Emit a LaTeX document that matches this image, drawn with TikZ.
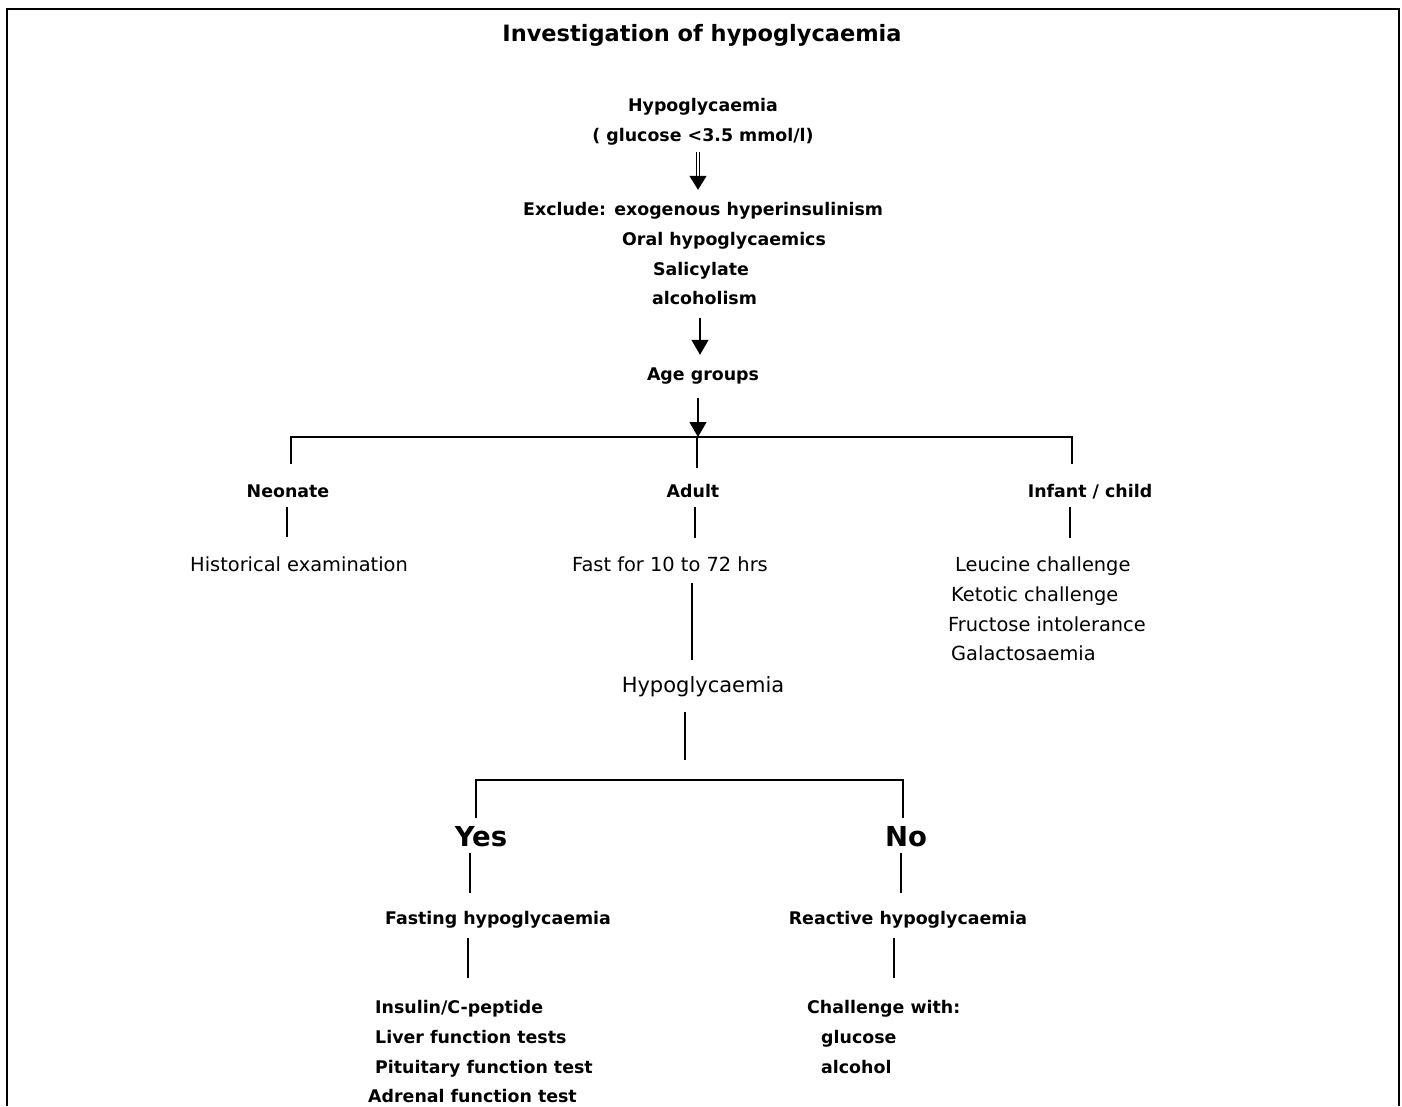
\documentclass[tikz,border=0pt]{standalone}
\usepackage{fontspec}
\setmainfont{DejaVu Sans}
\usepackage{tikz}
\usetikzlibrary{positioning, arrows.meta}
\tikzstyle{heading} = [font=\fontsize{22.5}{27}\selectfont\bfseries, inner sep=0pt, anchor=base]
\tikzstyle{boldtext} = [font=\fontsize{17.4}{21}\selectfont\bfseries, inner sep=0pt, text height=12pt, text depth=3pt, anchor=base]
\tikzstyle{plaintext} = [font=\fontsize{19.4}{23}\selectfont, inner sep=0pt, text height=12pt, text depth=3pt, anchor=base]
\tikzstyle{bigtext} = [font=\fontsize{21}{25}\selectfont, inner sep=0pt, text height=15pt, text depth=4pt, anchor=base]
\tikzstyle{answer} = [font=\fontsize{27.5}{33}\selectfont\bfseries, inner sep=0pt, text height=20pt, text depth=6pt, anchor=base]
\tikzstyle{arrow} = [line width=1.5pt, -{Triangle[width=17pt,length=15pt]}]
\tikzstyle{dblarrow} = [double, double distance=1.8pt, line width=1.2pt, -{Triangle[width=17pt,length=14pt]}]
\tikzstyle{link} = [line width=1.3pt]
\tikzstyle{treebar} = [line width=2pt]

\begin{document}
\begin{tikzpicture}[x=1pt, y=-1pt]
        \useasboundingbox (0,0) rectangle (1402,1106);
        \draw [line width=2.5pt] (7,1106) -- (7,9) -- (1399,9) -- (1399,1106);

        \node (title) [heading] at (702,41) {Investigation of hypoglycaemia};
        \node (hypo) [boldtext] at (703,111) {Hypoglycaemia};
        \node (glucose) [boldtext] at (703,141) {( glucose <3.5 mmol/l)};
        \node (exclude) [boldtext, anchor=base west] at (523,215) {Exclude: exogenous hyperinsulinism};
        \node (oral) [boldtext, anchor=base west] at (622,245) {Oral hypoglycaemics};
        \node (salicylate) [boldtext, anchor=base west] at (653,275) {Salicylate};
        \node (alcoholism) [boldtext, anchor=base west] at (652,304) {alcoholism};
        \node (age) [boldtext] at (703,380) {Age groups};

        % age groups
        \node (neonate) [boldtext] at (288,497) {Neonate};
        \node (adult) [boldtext] at (693,497) {Adult};
        \node (infant) [boldtext] at (1090,497) {Infant / child};
        \node (historical) [plaintext] at (299,571) {Historical examination};
        \node (fast) [plaintext] at (670,571) {Fast for 10 to 72 hrs};
        \node (leucine) [plaintext, anchor=base west] at (955,571) {Leucine challenge};
        \node (ketotic) [plaintext, anchor=base west] at (951,601) {Ketotic challenge};
        \node (fructose) [plaintext, anchor=base west] at (948,631) {Fructose intolerance};
        \node (galacto) [plaintext, anchor=base west] at (951,660) {Galactosaemia};
        \node (hypo2) [bigtext] at (703,692) {Hypoglycaemia};

        % yes / no
        \node (yes) [answer] at (481,846) {Yes};
        \node (no) [answer] at (906,846) {No};
        \node (fasting) [boldtext] at (498,924) {Fasting hypoglycaemia};
        \node (reactive) [boldtext] at (908,924) {Reactive hypoglycaemia};
        \node (insulin) [boldtext, anchor=base west] at (375,1013) {Insulin/C-peptide};
        \node (liver) [boldtext, anchor=base west] at (375,1043) {Liver function tests};
        \node (pituitary) [boldtext, anchor=base west] at (375,1073) {Pituitary function test};
        \node (adrenal) [boldtext, anchor=base west] at (368,1102) {Adrenal function test};
        \node (challenge) [boldtext, anchor=base west] at (807,1013) {Challenge with:};
        \node (glucose2) [boldtext, anchor=base west] at (821,1043) {glucose};
        \node (alcohol) [boldtext, anchor=base west] at (821,1073) {alcohol};

        \coordinate (split) at (698,437);
        \coordinate (split2) at (685,780);

        \draw [dblarrow, shorten <=8pt, shorten >=13pt] ([xshift=-5pt]glucose.south) -- ([xshift=-5pt]glucose.south |- exclude.north);
        \draw [arrow, shorten <=11pt, shorten >=13pt] ([xshift=-3pt]age.north |- alcoholism.south) -- ([xshift=-3pt]age.north);
        \draw [arrow, shorten <=15pt] ([xshift=-5pt]age.south) -- (split);
        \draw [treebar] ([xshift=3pt,yshift=21pt]neonate.north) |- (split) -| ([xshift=-18pt,yshift=21pt]infant.north);
        \draw [link, shorten >=17pt] ([xshift=-1pt]split) -- ([xshift=-1pt]split |- adult.north);

        \draw [link, shorten <=7pt, shorten >=22pt] ([xshift=-1pt]neonate.south) -- ([xshift=-1pt]neonate.south |- historical.north);
        \draw [link, shorten <=7pt, shorten >=21pt] ([xshift=2pt]adult.south) -- ([xshift=2pt]adult.south |- fast.north);
        \draw [link, shorten <=7pt, shorten >=21pt] ([xshift=-20pt]infant.south) -- ([xshift=-20pt]infant.south |- leucine.north);
        \draw [link, shorten <=9pt, shorten >=17pt] ([xshift=22pt]fast.south) -- ([xshift=22pt]fast.south |- hypo2.north);

        \draw [link, shorten <=16pt, shorten >=20pt] ([xshift=-18pt]hypo2.south) -- (split2);
        \draw [treebar] ([xshift=-5pt,yshift=8pt]yes.north) |- (split2) -| ([xshift=-3pt,yshift=8pt]no.north);
        \draw [link, shorten <=1pt, shorten >=19pt] ([xshift=-11pt]yes.south) -- ([xshift=-11pt]yes.south |- fasting.north);
        \draw [link, shorten <=1pt, shorten >=19pt] ([xshift=-5pt]no.south) -- ([xshift=-5pt]no.south |- reactive.north);
        \draw [link, shorten <=11pt, shorten >=23pt] ([xshift=-30pt]fasting.south) -- ([xshift=-30pt]fasting.south |- insulin.north);
        \draw [link, shorten <=11pt, shorten >=23pt] ([xshift=-14pt]reactive.south) -- ([xshift=-14pt]reactive.south |- challenge.north);
\end{tikzpicture}
\end{document}
